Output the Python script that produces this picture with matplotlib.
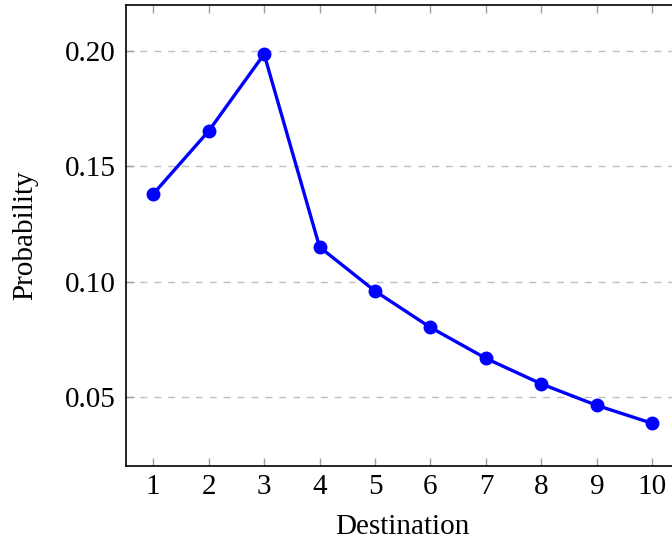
import matplotlib
matplotlib.use("Agg")
import matplotlib.pyplot as plt

destinations = [1, 2, 3, 4, 5, 6, 7, 8, 9, 10]
probability = [0.138, 0.1653, 0.1987, 0.1150, 0.0959, 0.0801, 0.0667, 0.0556, 0.0463, 0.0385]
yticks = [0.05, 0.10, 0.15, 0.20]
ytick_labels = ["0.05", "0.10", "0.15", "0.20"]

plt.rcParams['font.family'] = ['Liberation Serif', 'DejaVu Serif']

fig = plt.figure(figsize=(6.72, 5.43), dpi=100)
ax = fig.add_axes([125.5/672, 77/543, (680-125.5)/672, 461/543])

ax.plot(destinations, probability, color='#0000ff', lw=2.4, marker='o', ms=9, zorder=3, clip_on=False)

ax.set_xlim(0.5, 10.5)
ax.set_ylim(0.02, 0.22)
ax.set_xticks(destinations)
ax.set_xticklabels([str(d) for d in destinations])
ax.set_yticks(yticks)
ax.set_yticklabels(ytick_labels)

ax.yaxis.grid(True, color='#bfbfbf', linestyle=(0, (5, 5)), lw=1.0)
ax.set_axisbelow(True)

ax.tick_params(axis='both', direction='in', length=6, width=1, color='#a0a0a0', labelsize=21)
ax.tick_params(axis='x', top=True, pad=6)
ax.tick_params(axis='y', right=True, pad=7)
for s in ax.spines.values():
    s.set_linewidth(1.2)

ax.set_xlabel("Destination", fontsize=21, labelpad=10)
ax.set_ylabel("Probability", fontsize=21, labelpad=19)

fig.savefig("out.png", dpi=100)
